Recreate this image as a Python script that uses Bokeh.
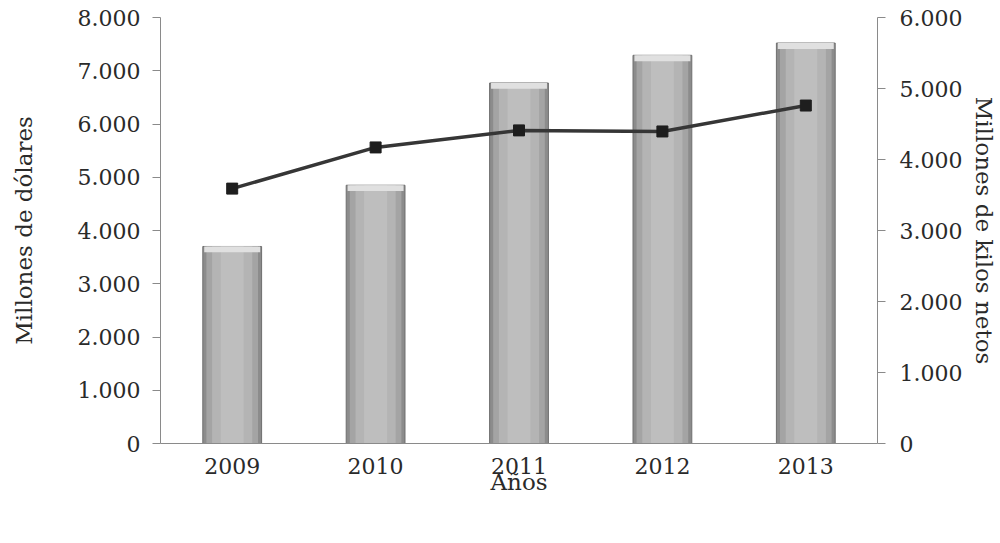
from bokeh.plotting import figure
from bokeh.models import Range1d, LinearAxis, Legend, LegendItem, FactorRange, CustomJSTickFormatter, FixedTicker
from bokeh.embed import file_html
from bokeh.resources import INLINE

years = ["2009", "2010", "2011", "2012", "2013"]
importacion_usd = [3700, 4850, 6770, 7290, 7520]      # millones de dólares (eje izq.)
importacion_kilos = [3590, 4170, 4410, 4395, 4760]    # millones de kilos netos (eje der.)
left_ticks = [0, 1000, 2000, 3000, 4000, 5000, 6000, 7000, 8000]
right_ticks = [0, 1000, 2000, 3000, 4000, 5000, 6000]

FONT = "DejaVu Serif"
FS_TICK = "22px"
FS_TITLE = "23px"
AXIS_COLOR = "#8a8a8a"
TEXT_COLOR = "#2a2a2a"

p = figure(frame_width=717, frame_height=426, x_range=FactorRange(*years), y_range=Range1d(0, 8000),
           output_backend="svg", toolbar_location=None,
           min_border_left=160, min_border_right=118, min_border_top=17, min_border_bottom=0)
p.outline_line_color = None
p.xgrid.grid_line_color = None
p.ygrid.grid_line_color = None
p.background_fill_color = "white"
p.border_fill_color = "white"

p.extra_y_ranges = {"kilos": Range1d(0, 6000)}

fmt = CustomJSTickFormatter(code="return tick.toLocaleString('de-DE');")

# bars (layered to imitate the shaded bars)
r_bar = p.vbar(x=years, top=importacion_usd, width=0.41, fill_color="#8c8c8c", line_color="#6e6e6e", line_width=1)
p.vbar(x=years, top=importacion_usd, width=0.36, fill_color="#a4a4a4", line_color=None)
p.vbar(x=years, top=importacion_usd, width=0.28, fill_color="#b4b4b4", line_color=None)
p.vbar(x=years, top=importacion_usd, width=0.16, fill_color="#bebebe", line_color=None)
p.vbar(x=years, top=importacion_usd, bottom=[v - 110 for v in importacion_usd], width=0.39,
       fill_color="#e0e0e0", line_color=None)

# line on the right axis
r_line = p.line(x=years, y=importacion_kilos, y_range_name="kilos", line_color="#363636", line_width=3.5)
r_pts = p.scatter(x=years, y=importacion_kilos, y_range_name="kilos", marker="square", size=11,
                  fill_color="#1e1e1e", line_color="#1e1e1e")

# left axis
ya = p.yaxis[0]
ya.ticker = FixedTicker(ticks=left_ticks)
ya.formatter = fmt
ya.axis_label = "Millones de dólares"

# right axis
ra = LinearAxis(y_range_name="kilos", ticker=FixedTicker(ticks=right_ticks), formatter=fmt,
                axis_label="Millones de kilos netos")
p.add_layout(ra, "right")

xa = p.xaxis[0]
xa.axis_label = "Años"

for ax in [ya, ra, xa]:
    ax.axis_line_color = AXIS_COLOR
    ax.major_tick_line_color = AXIS_COLOR
    ax.minor_tick_line_color = None
    ax.major_label_text_font = FONT
    ax.major_label_text_font_size = FS_TICK
    ax.major_label_text_color = TEXT_COLOR
    ax.axis_label_text_font = FONT
    ax.axis_label_text_font_size = FS_TITLE
    ax.axis_label_text_font_style = "normal"
    ax.axis_label_text_color = TEXT_COLOR

ya.major_tick_out = 8
ya.major_tick_in = 0
ya.major_label_standoff = 12
ya.axis_label_standoff = 38
ra.major_tick_out = 8
ra.major_tick_in = 0
ra.major_label_standoff = 14
ra.axis_label_standoff = 6
xa.major_tick_line_color = None
xa.major_label_standoff = 8
xa.axis_label_standoff = -8

legend = Legend(items=[LegendItem(label="Importación Antioquia", renderers=[r_bar]),
                       LegendItem(label="Importación kilos netos", renderers=[r_line, r_pts])],
                orientation="horizontal", location=(-10, 0),
                label_text_font=FONT, label_text_font_size=FS_TITLE, label_text_color=TEXT_COLOR,
                glyph_width=55, glyph_height=12, spacing=48, padding=0, margin=0,
                label_standoff=3, border_line_color=None, background_fill_alpha=0)
p.add_layout(legend, "below")

open("out.html", "w").write(file_html(p, INLINE))
